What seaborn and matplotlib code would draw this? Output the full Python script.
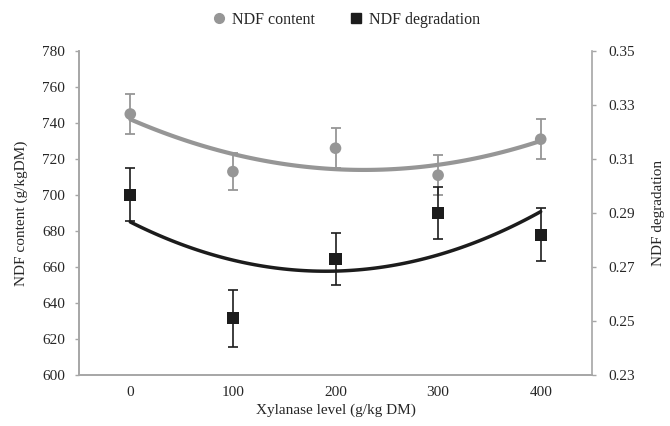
import matplotlib
matplotlib.use("Agg")
import matplotlib.pyplot as plt
from matplotlib.lines import Line2D
import numpy as np
import seaborn as sns

xylanase = [0, 100, 200, 300, 400]
ndf_content = [745, 713, 726, 711, 731]
ndf_content_err = [11, 10.5, 11, 11, 11]
ndf_degradation = [0.2967, 0.251, 0.273, 0.290, 0.282]
ndf_degradation_err = [0.0098, 0.0105, 0.0097, 0.0097, 0.0097]

gray = '#969696'
dark = '#1c1c1c'
spine = '#a6a6a6'
txt = '#262626'

sns.set_style('white')
plt.rcParams['font.family'] = ['Liberation Serif', 'DejaVu Serif']
plt.rcParams['font.size'] = 11

pos = np.arange(len(xylanase))

fig, ax = plt.subplots(figsize=(6.7, 4.26), dpi=100)
fig.subplots_adjust(left=0.1179, right=0.8836, top=0.8803, bottom=0.1197)
ax2 = ax.twinx()

# NDF content on the left axis
ax.errorbar(pos, ndf_content, yerr=ndf_content_err, fmt='none', ecolor=gray,
            elinewidth=1.3, capsize=3.5, capthick=1.3, zorder=2)
sns.regplot(x=pos, y=ndf_content, order=2, ci=None, scatter=False, ax=ax,
            line_kws=dict(color=gray, lw=3, zorder=3))
sns.scatterplot(x=pos, y=ndf_content, ax=ax, color=gray, marker='o', s=70,
                edgecolor='none', zorder=4)

# NDF degradation on the right axis
ax2.errorbar(pos, ndf_degradation, yerr=ndf_degradation_err, fmt='none', ecolor=dark,
             elinewidth=1.2, capsize=3.5, capthick=1.2, zorder=2)
sns.regplot(x=pos, y=ndf_degradation, order=2, ci=None, scatter=False, ax=ax2,
            line_kws=dict(color=dark, lw=2.5, zorder=3))
sns.scatterplot(x=pos, y=ndf_degradation, ax=ax2, color=dark, marker='s', s=75,
                edgecolor='none', zorder=4)

ax.set_xlim(-0.5, len(xylanase) - 0.5)
ax.set_ylim(600, 780)
ax.set_yticks(np.arange(600, 781, 20))
ax2.set_ylim(0.23, 0.35)
ax2.set_yticks(np.arange(0.23, 0.351, 0.02))
ax2.set_yticklabels([f'{v:.2f}' for v in np.arange(0.23, 0.351, 0.02)])

# category boundaries as tick marks, labels centred in between
ax.set_xticks(np.arange(-0.5, len(xylanase), 1.0))
ax.set_xticklabels([])
ax.set_xticks(pos, minor=True)
ax.set_xticklabels([str(v) for v in xylanase], minor=True)
ax.tick_params(axis='x', which='major', length=3, color=spine, width=1, direction='out')
ax.tick_params(axis='x', which='minor', length=0, pad=8, labelcolor=txt, labelsize=11)
ax.tick_params(axis='y', length=3, color=spine, width=1, direction='out', left=True,
               pad=7, labelcolor=txt, labelsize=11)
ax2.tick_params(axis='y', length=3, color=spine, width=1, direction='out', right=True,
                pad=9, labelcolor=txt, labelsize=11)

for a in (ax, ax2):
    a.spines['top'].set_visible(False)
    for s in ('left', 'right', 'bottom'):
        a.spines[s].set_color(spine)
        a.spines[s].set_linewidth(1.2)
    a.set_xlabel('')
ax.spines['right'].set_visible(False)

ax.set_xlabel('Xylanase level (g/kg DM)', color=txt, fontsize=11, labelpad=3)
ax.set_ylabel('NDF content (g/kgDM)', color=txt, fontsize=11, labelpad=10)
ax2.set_ylabel('NDF degradation', color=txt, fontsize=11, rotation=90, labelpad=12)

handles = [
    Line2D([], [], color=gray, marker='o', linestyle='none', markersize=7),
    Line2D([], [], color=dark, marker='s', linestyle='none', markersize=7),
]
fig.legend(handles, ['NDF content', 'NDF degradation'], loc='center',
           bbox_to_anchor=(0.51, 0.953), ncol=2, frameon=False, fontsize=11.5,
           handletextpad=-0.2, columnspacing=1.6, labelcolor=txt)

fig.savefig('out.png', dpi=100)
